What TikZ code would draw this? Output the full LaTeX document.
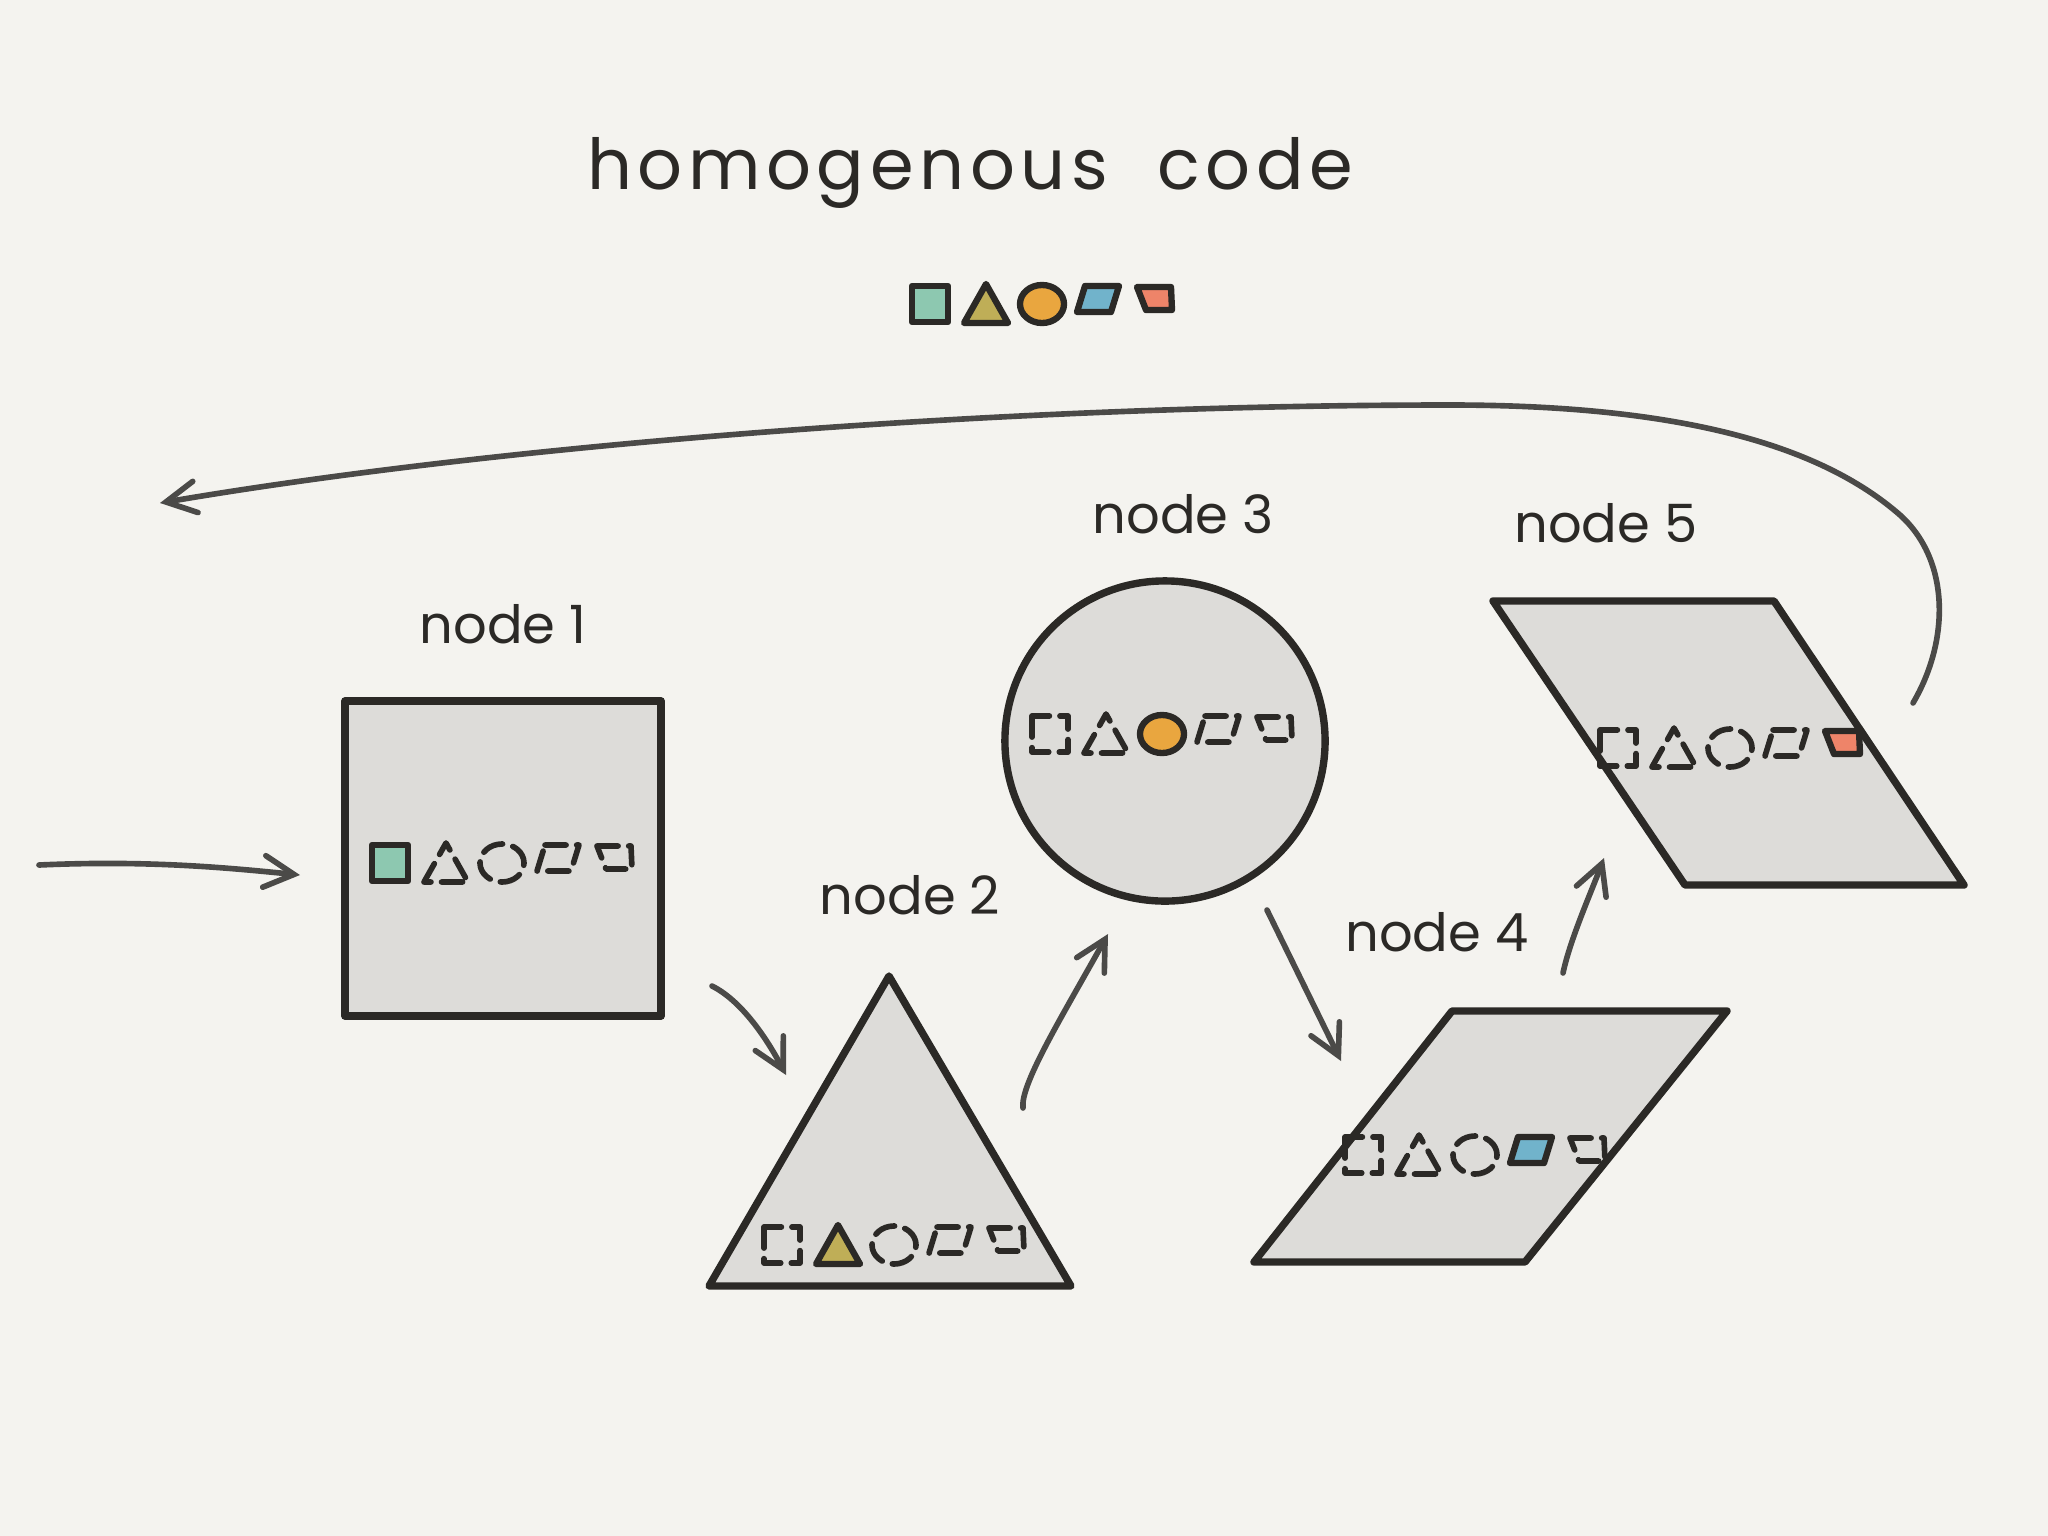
\documentclass[tikz,border=0pt]{standalone}
\usepackage{fontspec}
\setmainfont{Poppins}
\usetikzlibrary{arrows.meta}

\definecolor{paper}{HTML}{F4F3EF}
\definecolor{slab}{HTML}{DDDCD9}
\definecolor{ink}{HTML}{2B2926}
\definecolor{pencil}{HTML}{4B4A48}
\definecolor{mint}{HTML}{8DC8B0}
\definecolor{mustard}{HTML}{BFAE57}
\definecolor{amber}{HTML}{E9A63F}
\definecolor{sky}{HTML}{71B3CB}
\definecolor{coral}{HTML}{EE8469}

\tikzset{
  slabshape/.style={fill=slab,draw=ink,line width=2.1pt},
  flow/.style={draw=pencil,line width=1.6pt,-{Straight Barb[length=8.5pt,width=9pt,line cap=round]}},
  ghost/.style={draw=ink,line width=1.6pt,dash pattern=on 6pt off 3pt},
  solidmark/.style={draw=ink,line width=1.8pt,fill=#1},
  nodelabel/.style={anchor=base,font=\fontsize{15}{18}\selectfont,text=ink},
  pics/mark/.style={code={%
    \ifcase#1\or
      \path[pic actions] (-18,-18) rectangle (18,18);
    \or
      \path[pic actions] (-22,19) -- (0,-20) -- (22,19) -- cycle;
    \or
      \path[pic actions] (0,0) ellipse [x radius=0.22cm,y radius=0.19cm];
    \or
      \path[pic actions] (-13,-18) -- (21,-18) -- (13,8) -- (-21,8) -- cycle;
    \or
      \path[pic actions] (-17,-17) -- (17,-17) -- (18,6) -- (-8,6) -- cycle;
    \fi}},
}

% x, y of first slot, filled slot
\newcommand{\markrow}[3]{%
  \foreach \k/\c in {1/mint,2/mustard,3/amber,4/sky,5/coral}{
    \ifnum\k=#3
      \pic[solidmark=\c] at ({#1+(\k-1)*56},#2) {mark=\k};
    \else
      \pic[ghost] at ({#1+(\k-1)*56},#2) {mark=\k};
    \fi
  }}

\begin{document}
\begin{tikzpicture}[x=0.01cm,y=-0.01cm,line cap=round,line join=round]
\useasboundingbox[fill=paper] (0,0) rectangle (2048,1536);

\node[anchor=base,text=ink] (title) at (970,189)
  {\fontsize{20}{24}\selectfont\addfontfeature{LetterSpace=8}homogenous\hspace{14pt}code};

% legend
\foreach \k/\c in {1/mint,2/mustard,3/amber,4/sky,5/coral}
  \pic[solidmark=\c] at ({930+(\k-1)*56},304) {mark=\k};

% the five stages
\draw[slabshape] (345,701) rectangle (661,1016);
\draw[slabshape] (889,976) -- (1071,1286) -- (709,1286) -- cycle;
\draw[slabshape] (1165,741) circle [radius=1.6cm];
\draw[slabshape] (1452,1011) -- (1727,1011) -- (1525,1262) -- (1254,1262) -- cycle;
\draw[slabshape] (1493,601) -- (1774,601) -- (1964,885) -- (1685,885) -- cycle;

\markrow{390}{863}{1}
\markrow{782}{1245}{2}
\markrow{1050}{734}{3}
\markrow{1363}{1155}{4}
\markrow{1618}{748}{5}

\node[nodelabel] (lbl1) at (503,643) {node 1};
\node[nodelabel] (lbl2) at (910,914) {node 2};
\node[nodelabel] (lbl3) at (1183,533) {node 3};
\node[nodelabel] (lbl4) at (1437,951) {node 4};
\node[nodelabel] (lbl5) at (1606,542) {node 5};

% arrows
\coordinate (in0) at (39,865);
\coordinate (in1) at (300,875);
\coordinate (a12) at (712,986);
\coordinate (b12) at (786,1075);
\coordinate (a23) at (1023,1108);
\coordinate (b23) at (1108,934);
\coordinate (a34) at (1267,910);
\coordinate (b34) at (1341,1061);
\coordinate (a45) at (1563,973);
\coordinate (b45) at (1604,858);
\coordinate (back0) at (1913,703);
\coordinate (back1) at (160,503);

\draw[flow] (in0) .. controls (150,860) and (230,868) .. (in1);
\draw[flow] (a12) .. controls (740,1000) and (765,1035) .. (b12);
\draw[flow] (a23) .. controls (1020,1085) and (1060,1020) .. (b23);
\draw[flow] (a34) -- (b34);
\draw[flow] (a45) .. controls (1570,940) and (1590,895) .. (b45);
\draw[flow] (back0) .. controls (1950,640) and (1950,560) .. (1900,515)
  .. controls (1820,445) and (1680,405) .. (1450,405)
  .. controls (1000,405) and (500,445) .. (back1);
\end{tikzpicture}
\end{document}
